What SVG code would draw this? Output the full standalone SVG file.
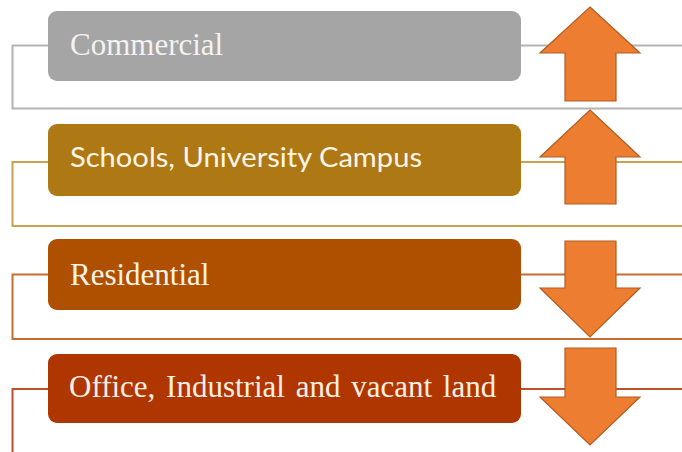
<svg xmlns="http://www.w3.org/2000/svg" width="682" height="452" viewBox="0 0 682 452">
<style>
.box{stroke:none}
.serif{font-family:"Liberation Serif","Times New Roman",serif;font-size:31px}
.sans{font-family:Lato,"Open Sans","Liberation Sans",sans-serif;font-size:27px}
.br{fill:none;stroke-width:2}
.arrow{fill:#ed7d31;stroke:#b25d22;stroke-width:1.2;stroke-linejoin:miter}
</style>
<rect width="682" height="452" fill="#ffffff"/>
<g id="connectors">
<path class="br" stroke="#b3b3b3" d="M48,45.5 H12.5 V108.5 H682 M521,45.5 H682"/>
<path class="br" stroke="#c9a24f" d="M48,162 H12.5 V226 H682 M521,162 H682"/>
<path class="br" stroke="#c96b2f" d="M48,274.5 H12.5 V339 H682 M521,274.5 H682"/>
<path class="br" stroke="#c04e28" d="M48,389 H12.5 V452 M521,389 H682"/>
</g>
<g id="commercial">
<rect class="box" x="48" y="11" width="473" height="70" rx="9" fill="#a5a5a5"/>
<text class="serif" x="70" y="55" fill="#f2f2f2">Commercial</text>
</g>
<g id="schools">
<rect class="box" x="48" y="124" width="473" height="72" rx="9" fill="#ae7814"/>
<text class="sans" x="70" y="167" fill="#fff6e8" textLength="352" lengthAdjust="spacingAndGlyphs">Schools, University Campus</text>
</g>
<g id="residential">
<rect class="box" x="48" y="239" width="473" height="71" rx="9" fill="#ae5000"/>
<text class="serif" x="70" y="285" fill="#fff3e6">Residential</text>
</g>
<g id="office">
<rect class="box" x="48" y="354" width="473" height="69" rx="9" fill="#b03600"/>
<text class="serif" x="69" y="397" fill="#fff0e6" word-spacing="3">Office, Industrial and vacant land</text>
</g>
<g id="arrow-up-1">
<polygon class="arrow" points="590,7 640,53 616,53 616,101 565,101 565,53 540,53"/>
</g>
<g id="arrow-up-2">
<polygon class="arrow" points="590,110 640,157 616,157 616,204 565,204 565,157 540,157"/>
</g>
<g id="arrow-down-3">
<polygon class="arrow" points="565,241 616,241 616,288 640,288 590,337 540,288 565,288"/>
</g>
<g id="arrow-down-4">
<polygon class="arrow" points="565,348 616,348 616,397 640,397 590,445 540,397 565,397"/>
</g>
</svg>
